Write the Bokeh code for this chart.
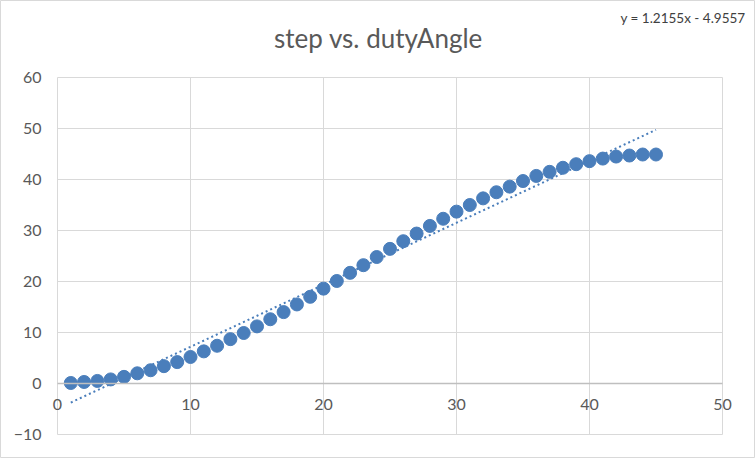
from bokeh.plotting import figure
from bokeh.models import Range1d, FixedTicker
from bokeh.core.properties import value
from bokeh.embed import file_html
from bokeh.resources import INLINE

step = list(range(1, 46))
duty_angle = [0.1, 0.3, 0.5, 0.8, 1.3, 2.0, 2.6, 3.4, 4.2, 5.2,
              6.3, 7.4, 8.7, 9.9, 11.2, 12.6, 14.0, 15.5, 17.0, 18.6,
              20.1, 21.7, 23.2, 24.8, 26.4, 27.9, 29.4, 30.9, 32.3, 33.7,
              35.0, 36.3, 37.5, 38.6, 39.7, 40.7, 41.5, 42.3, 43.0, 43.6,
              44.1, 44.5, 44.7, 44.9, 44.9]
slope = 1.2155
intercept = -4.9557
x_ticks = [0, 10, 20, 30, 40, 50]
y_ticks = [-10, 0, 10, 20, 30, 40, 50, 60]
title_text = "step vs. dutyAngle"
eq_text = "y = 1.2155x - 4.9557"

FONT = "Lato"
BLUE = "#4a7ebb"
GRID = "#d9d9d9"
TXT = "#595959"

W, H = 755, 458
# pixel positions of the plot area in the reference
PX0, PX50, PY60, PYm10 = 57.0, 722.0, 77.0, 434.0
sx = (PX50 - PX0) / 50.0
sy = (PYm10 - PY60) / 70.0
x_start = -PX0 / sx
x_end = 50 + (W - PX50) / sx
y_end = 60 + PY60 / sy
y_start = -10 - (H - PYm10) / sy


def dx(px):
    return (px - PX0) / sx


def dy(py):
    return (PYm10 - py) / sy - 10


p = figure(width=W, height=H, output_backend="svg", toolbar_location=None,
           x_range=Range1d(x_start, x_end), y_range=Range1d(y_start, y_end),
           min_border=0)
p.outline_line_color = GRID
p.background_fill_color = "white"
p.border_fill_color = "white"

p.xaxis.ticker = FixedTicker(ticks=x_ticks)
p.yaxis.ticker = FixedTicker(ticks=y_ticks)
p.xgrid.ticker = FixedTicker(ticks=x_ticks)
p.ygrid.ticker = FixedTicker(ticks=y_ticks)
p.xgrid.grid_line_color = GRID
p.ygrid.grid_line_color = GRID
p.xgrid.cross_bounds = (-10, 60)
p.ygrid.cross_bounds = (0, 50)

for ax in (p.xaxis, p.yaxis):
    ax.major_tick_line_color = None
    ax.minor_tick_line_color = None
    ax.major_tick_out = 0
    ax.major_tick_in = 0
    ax.major_label_text_font = FONT
    ax.major_label_text_font_size = "16px"
    ax.major_label_text_color = TXT
p.yaxis.fixed_location = 0
p.yaxis.axis_line_color = None
p.yaxis.major_label_standoff = 16
p.xaxis.fixed_location = 0
p.xaxis.bounds = (0, 50)
p.xaxis.axis_line_color = "#bfbfbf"
p.xaxis.axis_line_width = 1.5
p.xaxis.major_label_standoff = 15

x0, x1 = step[0], step[-1]
p.line([x0, x1], [slope * x0 + intercept, slope * x1 + intercept],
       line_color=BLUE, line_width=2, line_dash="2 3")
p.scatter(step, duty_angle, size=13, fill_color=BLUE, line_color=BLUE)

p.text(x=[dx(378)], y=[dy(37)], text=[title_text],
       text_align="center", text_baseline="middle", text_font=value(FONT),
       text_font_size="26px", text_color=TXT)
p.text(x=[dx(745)], y=[dy(17)], text=[eq_text],
       text_align="right", text_baseline="middle", text_font=value(FONT),
       text_font_size="13.5px", text_color="#404040")

open("out.html", "w").write(file_html(p, INLINE))
